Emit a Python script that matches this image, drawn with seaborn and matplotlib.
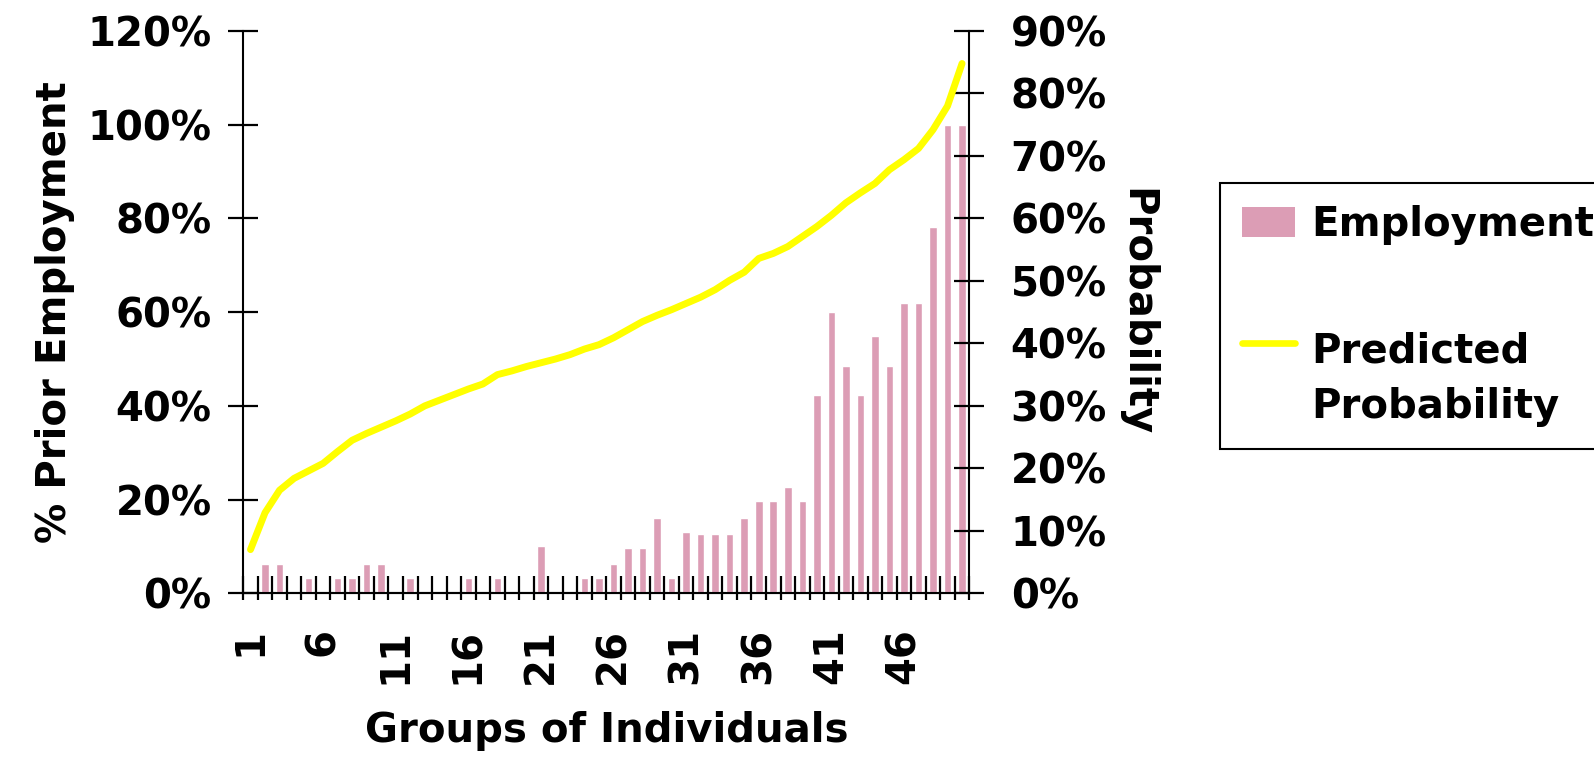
import numpy as np
import pandas as pd
import matplotlib
matplotlib.use("Agg")
import matplotlib.pyplot as plt
from matplotlib.patches import Patch
from matplotlib.lines import Line2D
from matplotlib.legend_handler import HandlerLine2D
from matplotlib.ticker import FixedLocator, NullLocator
import seaborn as sns

# ---- data -----------------------------------------------------------------
groups = list(range(1, 51))

# share of the group with prior employment (%)
employment = [
    0.0, 6.2, 6.2, 0.0, 3.3, 0.0, 3.3, 3.3, 6.2, 6.2,
    0.0, 3.3, 0.0, 0.0, 0.0, 3.3, 0.0, 3.3, 0.0, 0.0,
    10.1, 0.0, 0.0, 3.3, 3.3, 6.3, 9.7, 9.7, 16.1, 3.3,
    13.1, 12.7, 12.7, 12.7, 16.1, 19.6, 19.6, 22.6, 19.6, 42.3,
    60.1, 48.6, 42.3, 55.0, 48.6, 61.9, 61.9, 78.1, 100.0, 100.0,
]

# predicted probability of the group (%)
probability = [
    7.0, 12.9, 16.5, 18.4, 19.6, 20.8, 22.7, 24.5, 25.6, 26.6,
    27.6, 28.7, 30.0, 30.9, 31.8, 32.7, 33.5, 35.0, 35.6, 36.3,
    36.9, 37.5, 38.2, 39.1, 39.8, 40.9, 42.2, 43.5, 44.5, 45.4,
    46.4, 47.4, 48.6, 50.1, 51.4, 53.6, 54.4, 55.5, 57.1, 58.7,
    60.5, 62.5, 64.1, 65.6, 67.8, 69.4, 71.2, 74.2, 78.0, 84.8,
]

left_ticks = [0, 20, 40, 60, 80, 100, 120]
right_ticks = [0, 10, 20, 30, 40, 50, 60, 70, 80, 90]
labelled_groups = [1, 6, 11, 16, 21, 26, 31, 36, 41, 46]

BAR_COLOR = "#DC9DB5"
LINE_COLOR = "#FFFF00"
FS = 29

sns.set_theme(style="white")
plt.rcParams["font.family"] = ["DejaVu Sans"]
plt.rcParams["font.weight"] = "bold"
plt.rcParams["axes.labelweight"] = "bold"
for key in ("text.color", "axes.labelcolor", "xtick.color", "ytick.color",
            "axes.edgecolor"):
    plt.rcParams[key] = "black"

df = pd.DataFrame({"group": groups, "employment": employment,
                   "probability": probability})

fig = plt.figure(figsize=(15.94, 7.6), dpi=100)
ax = fig.add_axes([0.1526, 0.2193, 0.4555, 0.7399])

sns.barplot(data=df, x="group", y="employment", native_scale=True,
            width=0.52, color=BAR_COLOR, saturation=1, errorbar=None, ax=ax)

ax2 = ax.twinx()
sns.lineplot(data=df, x="group", y="probability", color=LINE_COLOR,
             linewidth=5, errorbar=None, legend=False, ax=ax2,
             solid_capstyle="round", solid_joinstyle="round")

# ---- axes limits and ticks -------------------------------------------------
ax.set_xlim(0.5, 50.5)
ax.set_ylim(0, 120)
ax2.set_ylim(0, 90)

ax.set_xticks(labelled_groups, labels=[str(g) for g in labelled_groups])
boundaries = np.arange(0.5, len(groups) + 1, 1.0)
ax.xaxis.set_minor_locator(FixedLocator(boundaries))
ax.tick_params(axis="x", which="major", bottom=True, length=0, pad=25,
               labelsize=FS, labelrotation=90, labelcolor="black")
ax.tick_params(axis="x", which="minor", bottom=True, direction="in",
               length=12, width=1.6, color="black")

# outward part of the category separators
sec = ax.secondary_xaxis("bottom")
sec.xaxis.set_major_locator(FixedLocator(boundaries))
sec.xaxis.set_minor_locator(NullLocator())
sec.tick_params(axis="x", which="major", bottom=True, direction="out",
                length=4.8, width=1.6, color="black", labelbottom=False)
sec.spines["bottom"].set_linewidth(1.5)
sec.spines["bottom"].set_color("black")

ax.set_yticks(left_ticks, labels=[f"{v}%" for v in left_ticks])
ax.tick_params(axis="y", left=True, direction="inout", length=21.6,
               width=1.6, color="black", pad=12, labelsize=FS,
               labelcolor="black")
ax2.set_yticks(right_ticks, labels=[f"{v}%" for v in right_ticks])
ax2.tick_params(axis="y", right=True, direction="inout", length=21.6,
                width=1.6, color="black", pad=19, labelsize=FS,
                labelcolor="black")

for side in ("left", "bottom", "right"):
    ax.spines[side].set_linewidth(1.5)
    ax.spines[side].set_color("black")
    ax2.spines[side].set_linewidth(1.5)
    ax2.spines[side].set_color("black")
ax.spines["top"].set_visible(False)
ax.spines["right"].set_visible(False)
ax2.spines["top"].set_visible(False)
ax2.spines["left"].set_visible(False)
ax2.spines["bottom"].set_visible(False)
ax.grid(False)
ax2.grid(False)

# ---- axis titles -----------------------------------------------------------
ax.set_xlabel("Groups of Individuals", fontsize=FS, fontweight="bold",
              color="black", labelpad=19)
ax.set_ylabel("% Prior Employment", fontsize=FS, fontweight="bold",
              color="black", labelpad=9)
ax2.set_ylabel("Probability", fontsize=FS, fontweight="bold",
               color="black", rotation=270, va="bottom", labelpad=7)


# ---- legend ------------------------------------------------------------------
class FirstLineHandler(HandlerLine2D):
    """Line handle aligned with the first line of a two-line label."""

    def create_artists(self, legend, orig_handle, xdescent, ydescent,
                       width, height, fontsize, trans):
        artists = super().create_artists(legend, orig_handle, xdescent,
                                         ydescent, width, height,
                                         fontsize, trans)
        for a in artists:
            a.set_ydata(np.asarray(a.get_ydata(), float) + 0.92 * fontsize)
        return artists


handles = [Patch(facecolor=BAR_COLOR, edgecolor="none"),
           Line2D([], [], color=LINE_COLOR, linewidth=4.8,
                  solid_capstyle="round")]
labels = ["Employment", "Predicted\nProbability"]
leg = fig.legend(handles, labels, loc="upper left",
                 bbox_to_anchor=(1220 / 1594, 1 - 183 / 760),
                 bbox_transform=fig.transFigure, frameon=True,
                 fancybox=False, shadow=False, framealpha=1,
                 borderpad=0.55, labelspacing=2.15, handlelength=1.3,
                 handleheight=0.77, handletextpad=0.42, borderaxespad=0,
                 prop={"size": FS, "weight": "bold"},
                 handler_map={Line2D: FirstLineHandler()})
leg.get_frame().set_edgecolor("black")
leg.get_frame().set_linewidth(1.5)
for t in leg.get_texts():
    t.set_color("black")
leg.get_texts()[1].set_linespacing(1.5)

fig.savefig("out.png", dpi=100)
